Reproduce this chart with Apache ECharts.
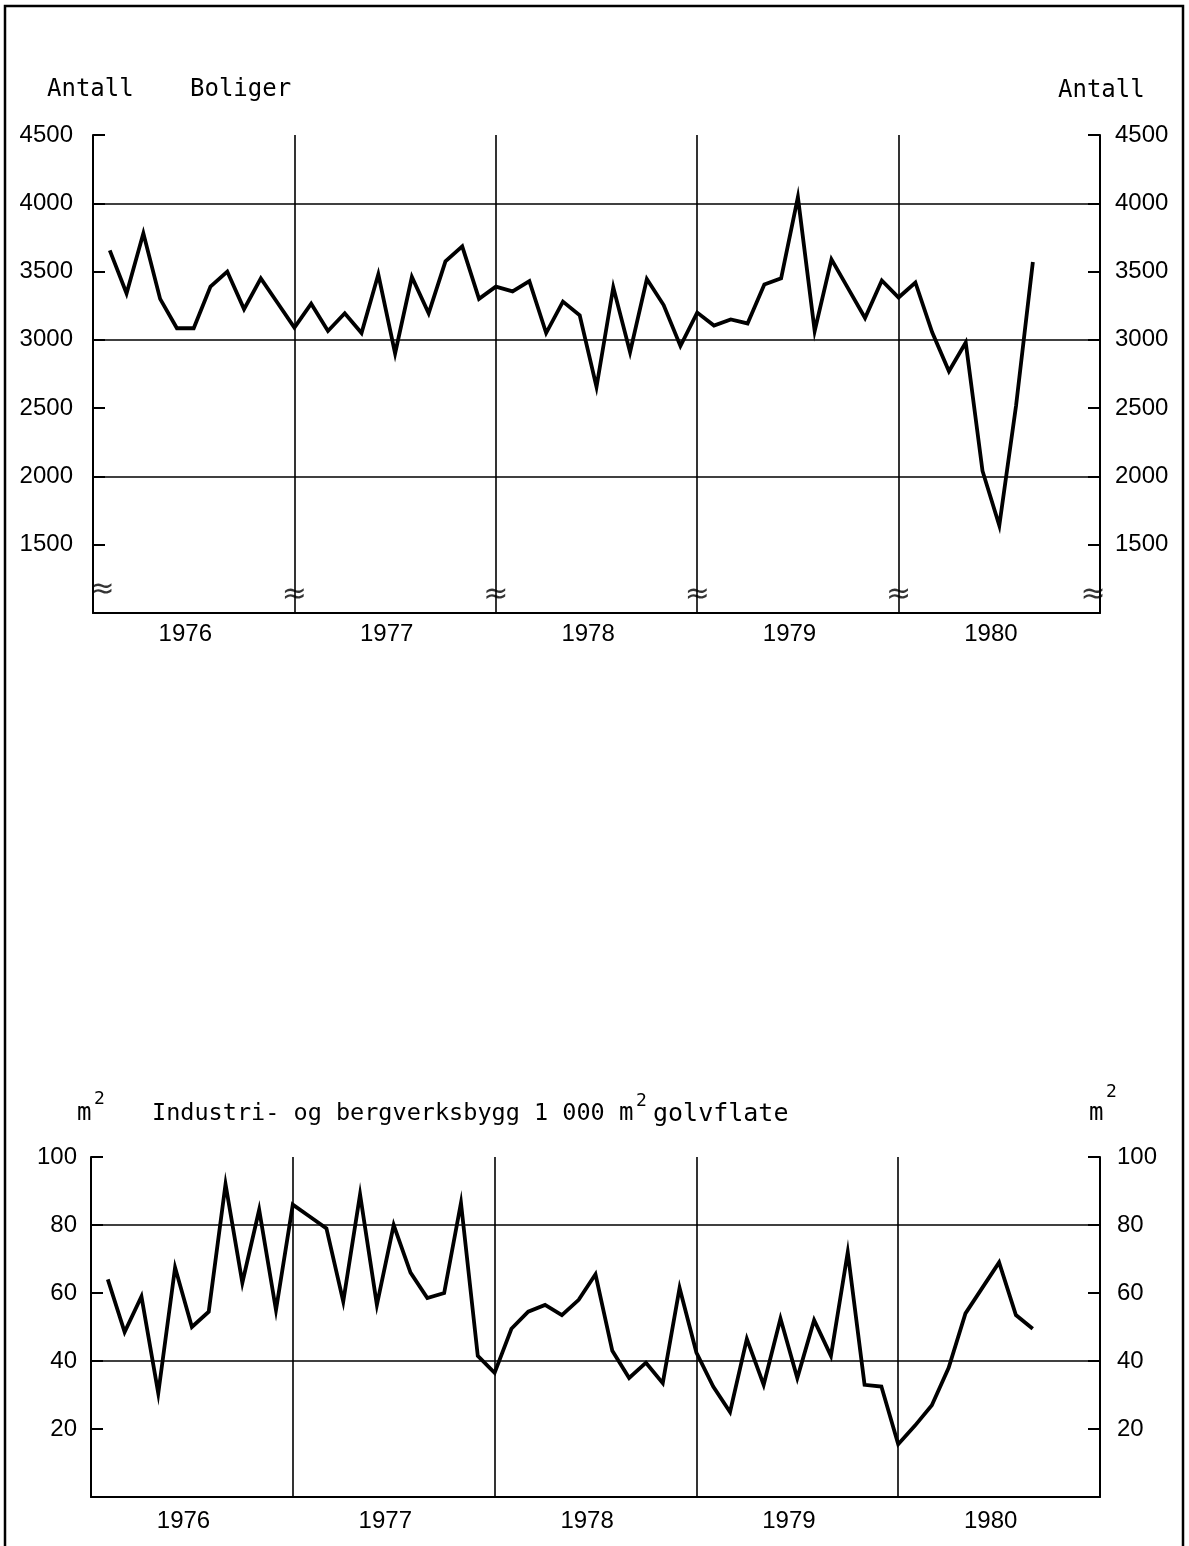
<!DOCTYPE html>
<html><head><meta charset="utf-8">
<script src="https://cdn.jsdelivr.net/npm/echarts@6/dist/echarts.min.js"></script>
<style>html,body{margin:0;padding:0;background:#fff}#c{width:1189px;height:1546px}</style>
</head><body><div id="c"></div>
<script>
// ---- data (monthly, Jan 1976 .. Aug 1980) ----
const years = ['1976', '1977', '1978', '1979', '1980'];
const boliger = [
  3655, 3340, 3780, 3300, 3085, 3085, 3390, 3500, 3225, 3450, 3270, 3090,   // 1976
  3265, 3065, 3195, 3050, 3480, 2900, 3460, 3195, 3575, 3685, 3300, 3390,   // 1977
  3355, 3430, 3050, 3280, 3180, 2655, 3385, 2910, 3445, 3255, 2955, 3200,   // 1978
  3105, 3150, 3120, 3405, 3450, 4045, 3065, 3590, 3375, 3160, 3435, 3310,   // 1979
  3420, 3055, 2770, 2980, 2040, 1640, 2520, 3570                            // 1980
];
const industri = [
  64, 48.5, 59, 30.5, 67.5, 50, 54.5, 92, 63, 84.5, 55, 86,                 // 1976
  82.5, 79, 57.5, 89, 56.5, 80, 66, 58.5, 60, 86.5, 41.5, 36.5,             // 1977
  49.5, 54.5, 56.5, 53.5, 58, 65.5, 43, 35, 39.5, 33.5, 61.5, 42.5,         // 1978
  32.5, 25, 46.5, 33, 52.5, 35, 52, 41.5, 72, 33, 32.5, 15.5,               // 1979
  21, 27, 38, 54, 61.5, 69, 53.5, 49.5                                      // 1980
];
const boligerTicks = [1500, 2000, 2500, 3000, 3500, 4000, 4500];
const boligerLines = [2000, 3000, 4000];
const industriTicks = [20, 40, 60, 80, 100];
const industriLines = [40, 80];

const BLACK = '#000';
const labelFont = 'Liberation Sans, Arial, sans-serif';
const monoFont = 'DejaVu Sans Mono, monospace';
const nMonths = years.length * 12;
const yearCenters = years.map((y, i) => i * 12 + 5.5);

function xAxisFor(gridIndex, margin) {
  return {
    type: 'value', gridIndex, min: 0, max: nMonths, interval: 12,
    axisLine: { show: true, onZero: false, lineStyle: { color: BLACK, width: 2 } },
    axisTick: { show: false },
    splitLine: { show: true, lineStyle: { color: BLACK, width: 1.6 } },
    axisLabel: {
      customValues: yearCenters, margin,
      formatter: v => years[Math.floor(v / 12)],
      color: BLACK, fontFamily: labelFont, fontSize: 24
    }
  };
}
function yAxisFor(gridIndex, pos, min, max, interval, ticks, margin) {
  return {
    type: 'value', gridIndex, position: pos, min, max, interval,
    axisLine: { show: true, onZero: false, lineStyle: { color: BLACK, width: 2 } },
    axisTick: { show: true, inside: true, length: 12, customValues: ticks, lineStyle: { color: BLACK, width: 2 } },
    splitLine: { show: false },
    axisLabel: { customValues: ticks, margin, color: BLACK, fontFamily: labelFont, fontSize: 24, formatter: v => String(v) }
  };
}
function gridLines(vals) {
  return {
    silent: true, symbol: ['none', 'none'], label: { show: false },
    lineStyle: { color: BLACK, width: 1.6, type: 'solid' },
    emphasis: { disabled: true },
    data: vals.map(v => ({ yAxis: v }))
  };
}

const breakData = [];
for (let k = 0; k <= years.length; k++) breakData.push({
  value: [k * 12, k === 0 ? 1168 : 1128],
  label: { offset: k === 0 ? [9, 0] : (k === years.length ? [-7, 0] : [0, 0]) }
});

const chart = echarts.init(document.getElementById('c'), null, { renderer: 'canvas' });
chart.setOption({
  animation: false,
  backgroundColor: '#fff',
  grid: [
    { left: 93, right: 89, top: 135, height: 478 },
    { left: 91, right: 89, top: 1157, height: 340 }
  ],
  xAxis: [xAxisFor(0, 9), xAxisFor(1, 12)],
  yAxis: [
    yAxisFor(0, 'left', 1000, 4500, 500, boligerTicks, 20),
    yAxisFor(0, 'right', 1000, 4500, 500, boligerTicks, 15),
    yAxisFor(1, 'left', 0, 100, 20, industriTicks, 14),
    yAxisFor(1, 'right', 0, 100, 20, industriTicks, 17)
  ],
  series: [
    {
      name: 'Boliger', type: 'line', xAxisIndex: 0, yAxisIndex: 0,
      data: boliger.map((v, i) => [i + 1, v]),
      showSymbol: false, lineStyle: { color: BLACK, width: 3.8, join: 'miter' },
      markLine: gridLines(boligerLines), z: 3
    },
    {
      name: 'breaks', type: 'scatter', xAxisIndex: 0, yAxisIndex: 0,
      data: breakData, symbolSize: 1, itemStyle: { color: 'rgba(0,0,0,0)' }, silent: true,
      label: { show: true, position: 'inside', formatter: '≈', color: BLACK, fontSize: 30, fontFamily: 'DejaVu Sans' }
    },
    {
      name: 'Industri', type: 'line', xAxisIndex: 1, yAxisIndex: 2,
      data: industri.map((v, i) => [i + 1, v]),
      showSymbol: false, lineStyle: { color: BLACK, width: 3.8, join: 'miter' },
      markLine: gridLines(industriLines), z: 3
    }
  ],
  graphic: [
    { type: 'rect', shape: { x: 5, y: 6, width: 1178, height: 1600 }, style: { fill: null, stroke: BLACK, lineWidth: 2.5 }, silent: true },
    { type: 'text', x: 47, y: 90, style: { text: 'Antall', font: '24px ' + monoFont, fill: BLACK, verticalAlign: 'middle' } },
    { type: 'text', x: 190, y: 90, style: { text: 'Boliger', font: '24px ' + monoFont, fill: BLACK, verticalAlign: 'middle' } },
    { type: 'text', x: 1058, y: 91, style: { text: 'Antall', font: '24px ' + monoFont, fill: BLACK, verticalAlign: 'middle' } },
    { type: 'text', x: 77, y: 1114, style: { text: 'm', font: '24px ' + monoFont, fill: BLACK, verticalAlign: 'middle' } },
    { type: 'text', x: 94, y: 1099, style: { text: '2', font: '18px ' + monoFont, fill: BLACK, verticalAlign: 'middle' } },
    { type: 'text', x: 152, y: 1114, style: { text: 'Industri- og bergverksbygg 1 000', font: '23.5px ' + monoFont, fill: BLACK, verticalAlign: 'middle' } },
    { type: 'text', x: 619, y: 1114, style: { text: 'm', font: '24px ' + monoFont, fill: BLACK, verticalAlign: 'middle' } },
    { type: 'text', x: 636, y: 1101, style: { text: '2', font: '18px ' + monoFont, fill: BLACK, verticalAlign: 'middle' } },
    { type: 'text', x: 653, y: 1114, style: { text: 'golvflate', font: '25px ' + monoFont, fill: BLACK, verticalAlign: 'middle' } },
    { type: 'text', x: 1089, y: 1114, style: { text: 'm', font: '24px ' + monoFont, fill: BLACK, verticalAlign: 'middle' } },
    { type: 'text', x: 1106, y: 1092, style: { text: '2', font: '18px ' + monoFont, fill: BLACK, verticalAlign: 'middle' } }
  ]
});
</script></body></html>
